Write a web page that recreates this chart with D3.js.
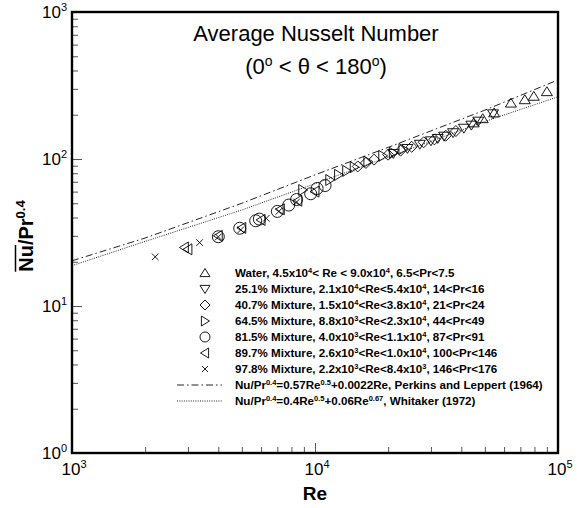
<!DOCTYPE html>
<html>
<head>
<meta charset="utf-8">
<script src="https://cdn.jsdelivr.net/npm/d3@7"></script>
<style>
  body { margin: 0; background: #fff; }
  svg { display: block; font-family: "Liberation Sans", Arial, sans-serif; }
</style>
</head>
<body>
<div id="chart"></div>
<script>
const waterRe = [45000, 49000, 54600, 64000, 73000, 79500, 90000];
const waterNu = [176, 188, 206, 240, 253, 267, 287];
const mix251Re = [21000, 24000, 27000, 30000, 32000, 34000, 37000, 41000, 44000, 47000, 54000];
const mix251Nu = [109, 118, 126, 133, 138, 143, 151, 162, 170, 181, 203];
const mix407Re = [15000, 16200, 17500, 20000, 22500, 25000, 28000, 31000, 34500, 38000];
const mix407Nu = [89, 94, 99, 107, 114, 121, 130, 136, 144, 155];
const mix645Re = [8900, 11500, 12500, 13500, 14500, 16500, 19000, 21000, 23000];
const mix645Nu = [61.5, 72, 78, 83, 88, 96, 105, 110, 117];
const mix815Re = [4000, 4900, 5700, 5900, 7000, 7800, 8400, 9600, 10200, 11000];
const mix815Nu = [29.6, 33.8, 38, 39, 44, 48.6, 53, 58, 63, 66];
const mix897Re = [2900, 3000, 4000, 5000, 6000, 7200, 8500, 10000];
const mix897Nu = [25.0, 24.3, 30.0, 34, 38.5, 45.5, 52, 60];
const mix978Re = [2200, 3350, 4000, 4950, 6300, 7100, 8400];
const mix978Nu = [21.6, 27.0, 29.5, 33.0, 39.5, 44, 51];

// correlation curves
const curveRe = [1000, 2000, 5000, 10000, 20000, 50000, 100000];
const perkinsNu = [20.3, 29, 50, 78, 120, 215, 345];
const whitakerNu = [18.8, 27.5, 45, 68, 103, 180, 265];

const xDecades = [1e3, 1e4, 1e5];
const yDecades = [1, 10, 100, 1000];

const seriesLabels = [
  "Water, 4.5x10^{4}< Re < 9.0x10^{4}, 6.5<Pr<7.5",
  "25.1% Mixture, 2.1x10^{4}<Re<5.4x10^{4}, 14<Pr<16",
  "40.7% Mixture, 1.5x10^{4}<Re<3.8x10^{4}, 21<Pr<24",
  "64.5% Mixture, 8.8x10^{3}<Re<2.3x10^{4}, 44<Pr<49",
  "81.5% Mixture, 4.0x10^{3}<Re<1.1x10^{4}, 87<Pr<91",
  "89.7% Mixture, 2.6x10^{3}<Re<1.0x10^{4}, 100<Pr<146",
  "97.8% Mixture, 2.2x10^{3}<Re<8.4x10^{3}, 146<Pr<176"
];
const curveLabels = [
  "Nu/Pr^{0.4}=0.57Re^{0.5}+0.0022Re, Perkins and Leppert (1964)",
  "Nu/Pr^{0.4}=0.4Re^{0.5}+0.06Re^{0.67}, Whitaker (1972)"
];

const series = [
  { shape: "up", re: waterRe, nu: waterNu },
  { shape: "down", re: mix251Re, nu: mix251Nu },
  { shape: "diamond", re: mix407Re, nu: mix407Nu },
  { shape: "right", re: mix645Re, nu: mix645Nu },
  { shape: "circle", re: mix815Re, nu: mix815Nu },
  { shape: "left", re: mix897Re, nu: mix897Nu },
  { shape: "cross", re: mix978Re, nu: mix978Nu }
];
const curves = [
  { nu: perkinsNu, dash: "7,3,1.5,3" },
  { nu: whitakerNu, dash: "1,1.3" }
];

const width = 580, height = 508;
const plot = { left: 72, right: 558, top: 12, bottom: 453 };

const svg = d3.select("#chart").append("svg")
  .attr("width", width).attr("height", height);

const x = d3.scaleLog().domain([1e3, 1e5]).range([plot.left, plot.right]);
const y = d3.scaleLog().domain([1, 1e3]).range([plot.bottom, plot.top]);

// marker outlines, s is the half size
function markerPath(shape, s) {
  const h = s * 0.9;
  switch (shape) {
    case "up": return `M0,${-h}L${s},${h * 0.8}L${-s},${h * 0.8}Z`;
    case "down": return `M0,${h}L${s},${-h * 0.8}L${-s},${-h * 0.8}Z`;
    case "right": return `M${h},0L${-h * 0.8},${s}L${-h * 0.8},${-s}Z`;
    case "left": return `M${-h},0L${h * 0.8},${s}L${h * 0.8},${-s}Z`;
    case "diamond": return `M0,${-s}L${s},0L0,${s}L${-s},0Z`;
    case "circle": return d3.arc()({ innerRadius: 0, outerRadius: s, startAngle: 0, endAngle: 2 * Math.PI });
    case "cross": { const c = s * 0.6; return `M${-c},${-c}L${c},${c}M${c},${-c}L${-c},${c}`; }
  }
}
const markerSize = { up: 5.5, down: 5.5, right: 5.5, left: 5.5, diamond: 5.5, circle: 6, cross: 5.5 };

// write "a^{b}c" as tspans with raised small text
function richText(sel, str, supSize, rise) {
  const parts = str.split(/(\^\{[^}]*\})/).filter(p => p.length);
  let raised = false;
  parts.forEach(p => {
    if (p.startsWith("^{")) {
      sel.append("tspan").text(p.slice(2, -1))
        .attr("font-size", supSize).attr("dy", -rise);
      raised = true;
    } else {
      const t = sel.append("tspan").text(p);
      if (raised) t.attr("dy", rise);
      raised = false;
    }
  });
}

// correlation lines
const line = d3.line().x((d, i) => x(curveRe[i])).y(d => y(d));
svg.append("g").selectAll("path").data(curves).join("path")
  .attr("d", d => line(d.nu))
  .attr("fill", "none").attr("stroke", "#222").attr("stroke-width", 1)
  .attr("stroke-dasharray", d => d.dash);

// data markers
const markers = svg.append("g");
series.forEach(s => {
  markers.selectAll(null).data(s.re.map((r, i) => [r, s.nu[i]])).join("path")
    .attr("transform", d => `translate(${x(d[0])},${y(d[1])})`)
    .attr("d", markerPath(s.shape, markerSize[s.shape]))
    .attr("fill", "none").attr("stroke", "#000").attr("stroke-width", 0.9);
});

// ticks pointing inward
const minorX = x.ticks().filter(v => !xDecades.includes(v));
const minorY = y.ticks().filter(v => !yDecades.includes(v));
function tickAxis(axis, vals, len) {
  return axis.tickValues(vals).tickSize(-len).tickFormat("");
}
const gx = svg.append("g").attr("transform", `translate(0,${plot.bottom})`);
gx.append("g").call(tickAxis(d3.axisBottom(x), minorX, 6));
gx.append("g").call(tickAxis(d3.axisBottom(x), xDecades, 10));
const gy = svg.append("g").attr("transform", `translate(${plot.left},0)`);
gy.append("g").call(tickAxis(d3.axisLeft(y), minorY, 6));
gy.append("g").call(tickAxis(d3.axisLeft(y), yDecades, 10));
svg.selectAll(".domain").remove();
svg.selectAll(".tick line").attr("stroke", "#555").attr("stroke-width", 1);

// frame
svg.append("rect")
  .attr("x", plot.left).attr("y", plot.top)
  .attr("width", plot.right - plot.left).attr("height", plot.bottom - plot.top)
  .attr("fill", "none").attr("stroke", "#000").attr("stroke-width", 2.4);

// decade labels
xDecades.forEach(v => {
  const t = svg.append("text").attr("x", x(v) + 2).attr("y", plot.bottom + 22)
    .attr("text-anchor", "middle").attr("font-size", 17);
  richText(t, "10^{" + Math.round(Math.log10(v)) + "}", 11, 7);
});
yDecades.forEach(v => {
  const t = svg.append("text").attr("x", plot.left - 5).attr("y", y(v) + 6)
    .attr("text-anchor", "end").attr("font-size", 17);
  richText(t, "10^{" + Math.round(Math.log10(v)) + "}", 11, 7);
});

// axis titles
svg.append("text").attr("x", (plot.left + plot.right) / 2).attr("y", 500)
  .attr("text-anchor", "middle").attr("font-size", 19).attr("font-weight", "bold")
  .text("Re");
const yt = svg.append("text").attr("transform", "translate(33,236) rotate(-90)")
  .attr("text-anchor", "middle").attr("font-size", 20).attr("font-weight", "bold");
richText(yt, "Nu/Pr^{0.4}", 13, 8);
const nuStart = yt.node().getStartPositionOfChar(0).x;
const nuLen = yt.node().getSubStringLength(0, 2);
svg.append("line").attr("transform", "translate(33,236) rotate(-90)")
  .attr("x1", nuStart).attr("x2", nuStart + nuLen).attr("y1", -17.5).attr("y2", -17.5)
  .attr("stroke", "#000").attr("stroke-width", 1.5);

// title
const cx = 316;
svg.append("text").attr("x", cx).attr("y", 41).attr("text-anchor", "middle")
  .attr("font-size", 22).text("Average Nusselt Number");
const t2 = svg.append("text").attr("x", cx).attr("y", 74).attr("text-anchor", "middle")
  .attr("font-size", 22);
richText(t2, "(0^{o} < \u03b8 < 180^{o})", 14, 8);

// legend
const legend = svg.append("g");
const rowY = i => 273 + i * 16;
seriesLabels.forEach((lab, i) => {
  const s = series[i];
  legend.append("path").attr("transform", `translate(205,${rowY(i)})`)
    .attr("d", markerPath(s.shape, 5))
    .attr("fill", "none").attr("stroke", "#000").attr("stroke-width", 0.9);
  const t = legend.append("text").attr("x", 235).attr("y", rowY(i) + 4)
    .attr("font-size", 11.6).attr("font-weight", "bold");
  richText(t, lab, 7.5, 4.5);
});
curveLabels.forEach((lab, j) => {
  const yy = rowY(seriesLabels.length + j);
  legend.append("line").attr("x1", 177).attr("x2", 222).attr("y1", yy).attr("y2", yy)
    .attr("stroke", "#222").attr("stroke-width", 1).attr("stroke-dasharray", curves[j].dash);
  const t = legend.append("text").attr("x", 235).attr("y", yy + 4)
    .attr("font-size", 11.6).attr("font-weight", "bold");
  richText(t, lab, 7.5, 4.5);
});
</script>
</body>
</html>
